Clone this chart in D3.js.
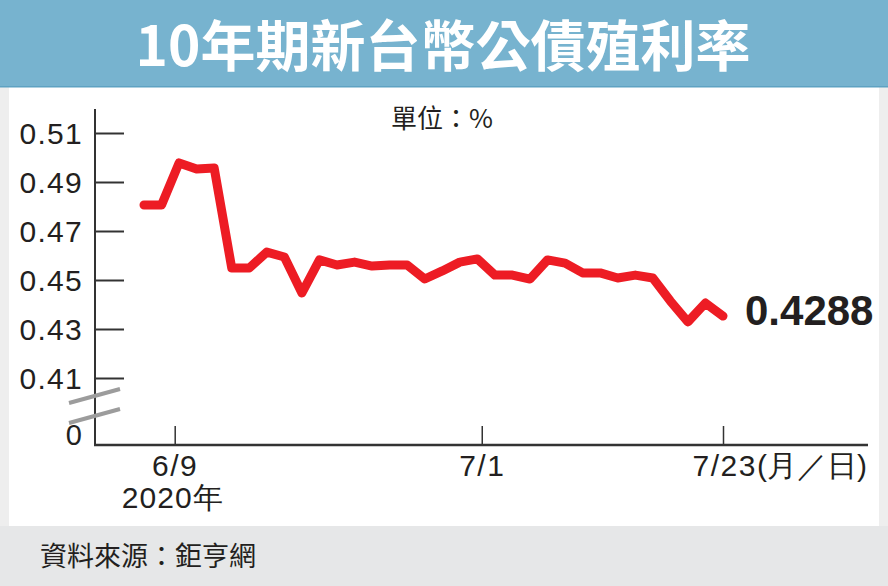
<!DOCTYPE html>
<html><head><meta charset="utf-8">
<script src="https://cdn.jsdelivr.net/npm/d3@7"></script>
<style>
html,body{margin:0;padding:0;background:#eeeeee;}
svg{display:block;}
</style></head>
<body>
<script>
// ---- data ----
const title = "10年期新台幣公債殖利率";
const unitLabel = "單位：%";
const sourceLabel = "資料來源：鉅亨網";
const lastLabel = "0.4288";
const yields = [0.4806, 0.4806, 0.4978, 0.4953, 0.4957, 0.4549, 0.4549, 0.4614, 0.4594, 0.4447,
                0.4582, 0.4561, 0.4573, 0.4557, 0.4561, 0.4561, 0.4504, 0.4537, 0.4573, 0.4586,
                0.4520, 0.4520, 0.4504, 0.4582, 0.4569, 0.4529, 0.4529, 0.4508, 0.4520, 0.4508,
                0.4414, 0.4329, 0.4406, 0.4353];
const yTicks = [0.41, 0.43, 0.45, 0.47, 0.49, 0.51];
const xTickPos = [1.75, 19.25, 33];
const xTickLabels = ["6/9", "7/1", "7/23"];
const xSubLabel = "2020年";
const xUnitLabel = "(月／日)";

// ---- drawing ----
const W = 888, H = 586;
const svg = d3.select("body").append("svg").attr("width", W).attr("height", H);
const latin = "'Liberation Sans', Arial, sans-serif";
const cjk = "'Noto Sans CJK TC', 'Noto Sans CJK SC', sans-serif";
const ink = "#231f20";

svg.append("rect").attr("width", W).attr("height", H).attr("fill", "#eeeeee");
svg.append("rect").attr("x", 9).attr("y", 87).attr("width", 870).attr("height", 439).attr("fill", "#ffffff");
svg.append("rect").attr("x", 0).attr("y", 526).attr("width", W).attr("height", 60).attr("fill", "#e6e7e8");
svg.append("rect").attr("x", 0).attr("y", 0).attr("width", W).attr("height", 87).attr("fill", "#77b3cf");
svg.append("rect").attr("x", 0).attr("y", 86).attr("width", W).attr("height", 1.5).attr("fill", "#5ea2c2");

svg.append("text").attr("x", 443).attr("y", 66).attr("text-anchor", "middle")
  .attr("font-family", cjk).attr("font-weight", 700).attr("font-size", 55)
  .attr("fill", "#ffffff").text(title);

svg.append("text").attr("x", 391).attr("y", 128)
  .attr("font-family", cjk).attr("font-size", 26).attr("fill", ink).text(unitLabel);

svg.append("text").attr("x", 40).attr("y", 566)
  .attr("font-family", cjk).attr("font-size", 27).attr("fill", ink).text(sourceLabel);

const axisX0 = 95, axisY0 = 445;
const x = d3.scaleLinear().domain([0, yields.length - 1]).range([144, 723]);
const y = d3.scaleLinear().domain([0.41, 0.51]).range([378, 133]);

// y axis
const yAxis = svg.append("g").attr("transform", `translate(${axisX0},0)`)
  .call(d3.axisLeft(y).tickValues(yTicks).tickSize(-29).tickPadding(12)
        .tickFormat(d3.format(".2f")));
yAxis.select(".domain").remove();
yAxis.selectAll(".tick line").attr("stroke", "#333").attr("stroke-width", 2);
yAxis.selectAll(".tick text").attr("font-family", latin).attr("font-size", 30)
  .attr("letter-spacing", 1.3).attr("fill", ink).attr("dy", "0.36em");

svg.append("line").attr("x1", axisX0).attr("x2", axisX0).attr("y1", 109).attr("y2", axisY0 + 1)
  .attr("stroke", "#333").attr("stroke-width", 2);
svg.append("text").attr("x", axisX0 - 13).attr("y", axisY0).attr("text-anchor", "end")
  .attr("font-family", latin).attr("font-size", 29).attr("fill", ink).text("0");

// axis break marks
[0, 20].forEach(off => {
  svg.append("line").attr("x1", 69).attr("y1", 403 + off).attr("x2", 120).attr("y2", 389 + off)
    .attr("stroke", "#9c9c9c").attr("stroke-width", 4);
});

// x axis
const xAxis = svg.append("g").attr("transform", `translate(0,${axisY0})`)
  .call(d3.axisBottom(x).tickValues(xTickPos).tickSize(-19).tickPadding(10)
        .tickFormat((d, i) => xTickLabels[i]));
xAxis.select(".domain").remove();
xAxis.selectAll(".tick line").attr("stroke", "#333").attr("stroke-width", 1.5);
xAxis.selectAll(".tick text").attr("font-family", latin).attr("font-size", 30)
  .attr("letter-spacing", 1.5).attr("fill", ink).attr("dy", "0.7em");
svg.append("line").attr("x1", axisX0 - 1).attr("x2", 868).attr("y1", axisY0).attr("y2", axisY0)
  .attr("stroke", "#333").attr("stroke-width", 2.5);

// sub labels
svg.append("text").attr("x", x(xTickPos[0]) - 2).attr("y", 508).attr("text-anchor", "middle")
  .attr("font-family", latin).attr("font-size", 30).attr("letter-spacing", 1)
  .attr("fill", ink).text(xSubLabel);
const lastTick = xAxis.selectAll(".tick text").filter((d, i) => i === xTickPos.length - 1);
lastTick.append("tspan").attr("letter-spacing", 0).text(xUnitLabel);
lastTick.attr("text-anchor", "start").attr("x", -31);

// line
const line = d3.line().x((d, i) => x(i)).y(d => y(d));
svg.append("path").datum(yields).attr("d", line).attr("fill", "none")
  .attr("stroke", "#ed1c24").attr("stroke-width", 9)
  .attr("stroke-linejoin", "round").attr("stroke-linecap", "round");

svg.append("text").attr("x", 745).attr("y", 325)
  .attr("font-family", latin).attr("font-weight", 700).attr("font-size", 42)
  .attr("fill", ink).text(lastLabel);
</script>
</body></html>
